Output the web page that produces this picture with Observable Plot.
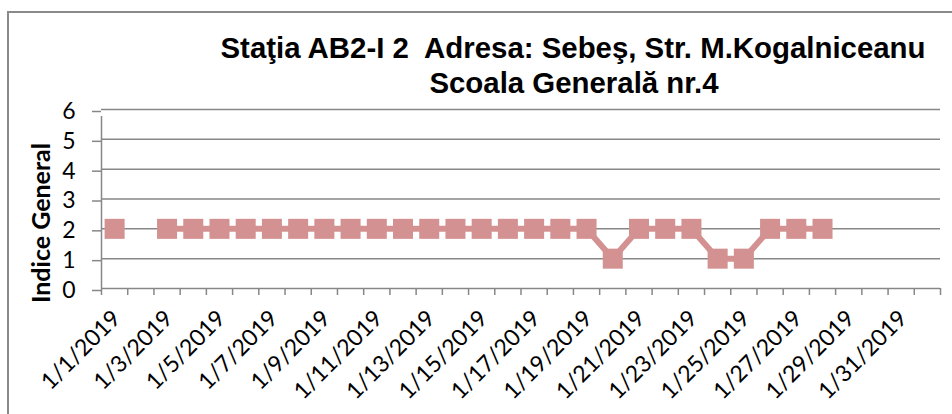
<!DOCTYPE html>
<html>
<head>
<meta charset="utf-8">
<script src="https://cdn.jsdelivr.net/npm/d3@7"></script>
<script src="https://cdn.jsdelivr.net/npm/@observablehq/plot@0.6"></script>
<style>
  html, body { margin: 0; padding: 0; background: #fff; }
  #wrap { position: relative; width: 952px; height: 414px; overflow: hidden; }
  #border { position: absolute; left: 7px; top: 11px; width: 1000px; height: 500px; border: 2px solid #8a8a8a; pointer-events: none; box-sizing: border-box; }
  svg { display: block; }
</style>
</head>
<body>
<div id="wrap"><div id="border"></div></div>
<script>
// Data
const titleLines = ["Staţia AB2-I 2  Adresa: Sebeş, Str. M.Kogalniceanu", "Scoala Generală nr.4"];
const yTitle = "Indice General";
const days = [1,2,3,4,5,6,7,8,9,10,11,12,13,14,15,16,17,18,19,20,21,22,23,24,25,26,27,28];
const values = [2,null,2,2,2,2,2,2,2,2,2,2,2,2,2,2,2,2,2,1,2,2,2,1,1,2,2,2];
const tickDays = [1,3,5,7,9,11,13,15,17,19,21,23,25,27,29,31];
const tickLabels = ["1/1/2019","1/3/2019","1/5/2019","1/7/2019","1/9/2019","1/11/2019","1/13/2019","1/15/2019","1/17/2019","1/19/2019","1/21/2019","1/23/2019","1/25/2019","1/27/2019","1/29/2019","1/31/2019"];
const categoryCount = 32; // 1/1/2019 .. 2/1/2019
const yTicks = [0,1,2,3,4,5,6];

const data = days.map((d, i) => ({day: d, value: values[i]}));
const boundaries = d3.range(0, categoryCount + 1).map(i => i + 0.5);
const labelOf = new Map(tickDays.map((d, i) => [d, tickLabels[i]]));

const grey = "#878787";
const pink = "#D39291";

const chart = Plot.plot({
  width: 952,
  height: 414,
  marginLeft: 101,
  marginRight: 12,
  marginTop: 109,
  marginBottom: 126,
  style: {fontFamily: "Lato, sans-serif", fontSize: "22px", color: "#000", background: "transparent"},
  x: {type: "linear", domain: [0.5, categoryCount + 0.5], axis: null},
  y: {domain: [0, 6], axis: null},
  marks: [
    Plot.gridY(yTicks, {stroke: grey, strokeOpacity: 1, strokeWidth: 1.5}),
    Plot.ruleX([0.5], {y1: 0, y2: 6, stroke: grey, strokeWidth: 1.5, insetBottom: -7}),
    Plot.axisY({ticks: yTicks, tickSize: 9, tickPadding: 17, tickFormat: d3.format("d"), stroke: grey, strokeWidth: 1.5, fontSize: 23, label: null, dy: 2}),
    Plot.axisY({ticks: [], tickSize: 0, label: yTitle, labelAnchor: "center", labelArrow: "none", labelOffset: 69, fontSize: 25, fontWeight: "bold"}),
    Plot.axisX({ticks: boundaries, tickSize: 7, tickFormat: () => "", stroke: grey, strokeWidth: 1.5, label: null}),
    Plot.axisX({ticks: tickDays, tickSize: 0, tickRotate: -45, tickPadding: 26, tickFormat: d => labelOf.get(d), fontSize: 23, label: null, dx: 2}),
    Plot.line(data, {x: "day", y: "value", stroke: pink, strokeWidth: 6, strokeLinejoin: "miter"}),
    Plot.dot(data, {x: "day", y: "value", symbol: "square", r: 11.3, fill: pink, stroke: "none"}),
    Plot.text([titleLines[0]], {frameAnchor: "top", dx: 52, dy: -52, lineAnchor: "bottom", fontFamily: "'Liberation Sans', Arial, sans-serif", fontWeight: "bold", fontSize: 29.4, fill: "#000"}),
    Plot.text([titleLines[1]], {frameAnchor: "top", dx: 53, dy: -17, lineAnchor: "bottom", fontFamily: "'Liberation Sans', Arial, sans-serif", fontWeight: "bold", fontSize: 29.4, fill: "#000"})
  ]
});
// shift the y-axis title slightly lower, as in the original layout
d3.select(chart).selectAll('g[aria-label="y-axis label"]').attr("transform", function() {
  return "translate(0,24) " + (this.getAttribute("transform") || "");
});
document.getElementById("wrap").insertBefore(chart, document.getElementById("border"));
</script>
</body>
</html>
